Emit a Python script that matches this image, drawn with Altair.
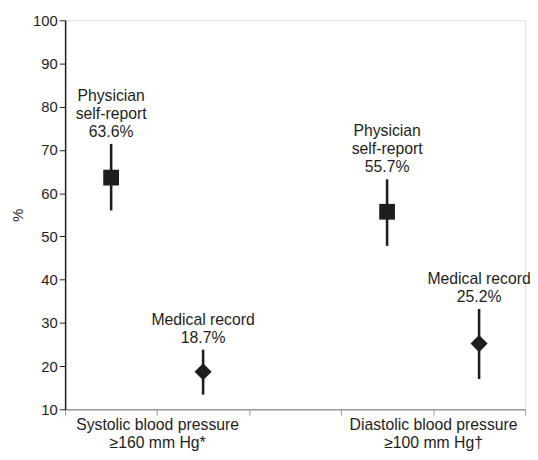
import altair as alt
import pandas as pd

# data
x_pos = [0.5, 1.5, 3.5, 4.5]
source = ["Physician self-report", "Medical record", "Physician self-report", "Medical record"]
pct = [63.6, 18.7, 55.7, 25.2]
ci_low = [56.0, 13.4, 47.8, 17.0]
ci_high = [71.4, 23.8, 63.2, 33.2]
shapes = ["square", "diamond", "square", "diamond"]
sizes = [256, 300, 256, 300]
labels = [
    ["Physician", "self-report", "63.6%"],
    ["Medical record", "18.7%"],
    ["Physician", "self-report", "55.7%"],
    ["Medical record", "25.2%"],
]
n_lines = [3, 2, 3, 2]
y_ticks = [10, 20, 30, 40, 50, 60, 70, 80, 90, 100]
x_ticks = [0, 1, 2, 3, 4, 5]

df = pd.DataFrame({
    "x": x_pos, "source": source, "pct": pct, "lo": ci_low, "hi": ci_high,
    "shape": shapes, "size": sizes, "label": labels, "n": n_lines,
})

FONT = "Liberation Sans"
INK = "#1e1e1e"
LH = 18.5

x_enc = alt.X(
    "x:Q",
    scale=alt.Scale(domain=[0, 5], nice=False, zero=False),
    axis=alt.Axis(
        values=x_ticks, title=None, grid=False,
        labelExpr="datum.value == 1 ? ['Systolic blood pressure', '≥160 mm Hg*'] : datum.value == 4 ? ['Diastolic blood pressure', '≥100 mm Hg†'] : ''",
        domainColor="#9a9a9a", tickColor="#9a9a9a", tickSize=6, domainWidth=1.5,
        labelFontSize=16, labelColor=INK, labelLineHeight=18, labelPadding=2,
        labelFont=FONT, labelBaseline="top",
    ),
)
y_scale = alt.Scale(domain=[10, 100], nice=False, zero=False)
y_axis = alt.Axis(
    values=y_ticks, title="%", grid=False, domainColor=INK, tickColor=INK,
    tickSize=6, domainWidth=1.5, labelFontSize=15, labelColor=INK, labelPadding=2,
    labelFont=FONT, titleFont=FONT, titleFontSize=15, titleFontWeight="normal",
    titleColor=INK, titlePadding=7,
)

base = alt.Chart(df)

bars = base.mark_rule(color=INK, strokeWidth=2.6).encode(
    x=x_enc,
    y=alt.Y("lo:Q", scale=y_scale, axis=y_axis),
    y2="hi:Q",
)

points = base.mark_point(filled=True, color=INK, opacity=1).encode(
    x="x:Q",
    y=alt.Y("pct:Q", scale=y_scale),
    shape=alt.Shape("shape:N", scale=None),
    size=alt.Size("size:Q", scale=None),
)

def label_layer(n):
    return base.transform_filter(alt.datum.n == n).mark_text(
        font=FONT, fontSize=16, color=INK, baseline="bottom", align="center",
        lineHeight=LH, dy=-4 - (n - 1) * LH,
    ).encode(
        x="x:Q",
        y=alt.Y("hi:Q", scale=y_scale),
        text="label",
    )

chart = (bars + points + label_layer(3) + label_layer(2)).properties(
    width=467, height=395,
    autosize=alt.AutoSizeParams(type="none"),
    padding={"left": 58, "top": 9, "right": 5, "bottom": 48},
).configure_view(stroke=None).configure(font=FONT)

chart.save("out.html", embed_options={"renderer": "svg", "actions": False})
